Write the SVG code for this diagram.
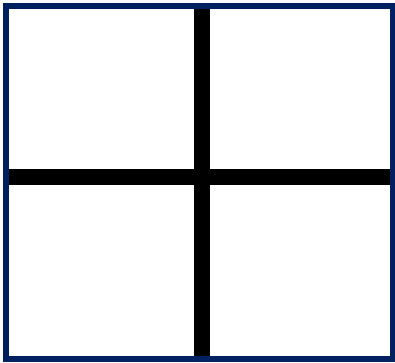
<svg xmlns="http://www.w3.org/2000/svg" width="395" height="363" viewBox="0 0 395 363">
  <style>
    .frame { fill: #ffffff; stroke: #002060; stroke-width: 6; }
    .bar { stroke: #000000; stroke-width: 16; fill: none; }
  </style>
  <rect width="395" height="363" fill="#ffffff"/>
  <g id="frame">
    <rect class="frame" x="6" y="6" width="387" height="353"/>
  </g>
  <g id="connectors">
    <line class="bar" x1="202" y1="9" x2="202" y2="356"/>
    <line class="bar" x1="9" y1="177" x2="390" y2="177"/>
  </g>
</svg>
